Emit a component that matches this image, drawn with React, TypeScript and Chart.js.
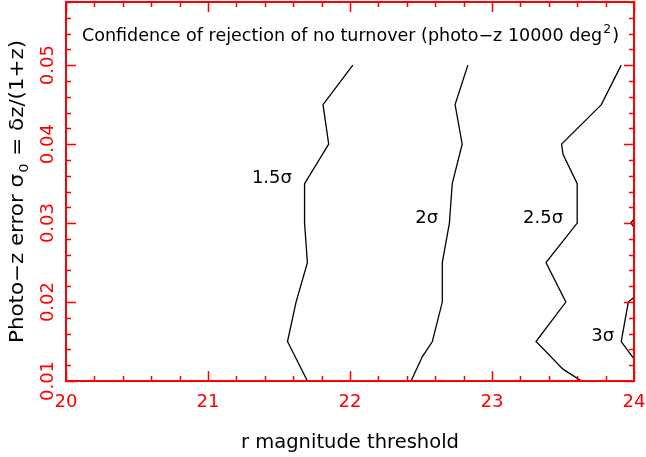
import React, { useEffect, useRef } from "react";
import { Chart, registerables } from "chart.js";

Chart.register(...registerables);

// ---- axis ranges & ticks ----
const xRange = [20, 24];
const yRange = [0.01, 0.058];
const xMajorTicks = [20, 21, 22, 23, 24];
const xTickLabels = ["20", "21", "22", "23", "24"];
const yMajorTicks = [0.01, 0.02, 0.03, 0.04, 0.05];
const yTickLabels = ["0.01", "0.02", "0.03", "0.04", "0.05"];
const xMinorStep = 0.2;
const yMinorStep = 0.002;

// ---- contour lines (r magnitude, sigma_0) ----
const sigma15X = [21.70, 21.56, 21.62, 21.70, 21.68, 21.68, 21.85, 21.81, 22.02];
const sigma15Y = [0.010, 0.015, 0.020, 0.025, 0.030, 0.035, 0.040, 0.045, 0.050];

const sigma2X = [22.43, 22.51, 22.58, 22.65, 22.65, 22.70, 22.72, 22.79, 22.74, 22.83];
const sigma2Y = [0.010, 0.0131, 0.015, 0.020, 0.025, 0.030, 0.035, 0.040, 0.045, 0.050];

const sigma25X = [23.63, 23.50, 23.31, 23.52, 23.38, 23.60, 23.60, 23.50, 23.49, 23.77, 23.91];
const sigma25Y = [0.010, 0.0115, 0.015, 0.020, 0.025, 0.030, 0.035, 0.0387, 0.040, 0.045, 0.050];

const sigma3aX = [24.0, 23.91, 23.96, 24.0];
const sigma3aY = [0.0128, 0.015, 0.020, 0.0206];
const sigma3bX = [24.0, 23.977, 24.0];
const sigma3bY = [0.0295, 0.030, 0.0305];

// ---- contour labels (text, anchor in data units) ----
const contourLabels = ["1.5σ", "2σ", "2.5σ", "3σ"];
const contourLabelX = [21.45, 22.54, 23.36, 23.78];
const contourLabelY = [0.0357, 0.0306, 0.0306, 0.0157];

const titleMain = "Confidence of rejection of no turnover (photo\u2212z 10000 deg";
const titleSup = "2";
const titleEnd = ")";
const xAxisTitle = "r magnitude threshold";
const yTitleA = "Photo\u2212z error \u03c3";
const yTitleSub = "0";
const yTitleB = " = \u03b4z/(1+z)";

const RED = "#ff0000";
const FONT = "'DejaVu Sans', sans-serif";

const zip = (xs: number[], ys: number[]) => xs.map((x, i) => ({ x, y: ys[i] }));

type Part = { text: string; size: number; dy: number; gap: number };

// draw a run of text parts starting at (0,0) in the current frame, stretched to targetWidth
function drawRun(ctx: CanvasRenderingContext2D, parts: Part[], targetWidth: number) {
  let total = 0;
  const widths = parts.map((p) => {
    ctx.font = `${p.size}px ${FONT}`;
    const w = ctx.measureText(p.text).width;
    total += w + p.gap;
    return w;
  });
  const k = targetWidth / total;
  ctx.save();
  ctx.scale(k, 1);
  ctx.textAlign = "left";
  ctx.textBaseline = "alphabetic";
  let x = 0;
  parts.forEach((p, i) => {
    ctx.font = `${p.size}px ${FONT}`;
    x += p.gap;
    ctx.fillText(p.text, x, p.dy);
    x += widths[i];
  });
  ctx.restore();
}

const decorPlugin = {
  id: "decor",
  beforeDraw(chart: any) {
    const ctx = chart.ctx;
    ctx.save();
    ctx.fillStyle = "#ffffff";
    ctx.fillRect(0, 0, chart.width, chart.height);
    ctx.restore();
  },
  afterDatasetsDraw(chart: any) {
    const ctx = chart.ctx;
    const xs = chart.scales.x;
    const ys = chart.scales.y;
    const a = chart.chartArea;
    ctx.save();

    // frame
    ctx.strokeStyle = RED;
    ctx.lineWidth = 2;
    ctx.strokeRect(a.left, a.top, a.right - a.left, a.bottom - a.top);

    // ticks
    ctx.lineWidth = 1.5;
    ctx.beginPath();
    const nx = Math.round((xRange[1] - xRange[0]) / xMinorStep);
    for (let i = 0; i <= nx; i++) {
      const v = xRange[0] + i * xMinorStep;
      const major = xMajorTicks.some((t) => Math.abs(t - v) < 1e-6);
      const len = major ? 10 : 5;
      const px = Math.round(xs.getPixelForValue(v)) + 0.5;
      ctx.moveTo(px, a.bottom);
      ctx.lineTo(px, a.bottom - len);
      ctx.moveTo(px, a.top);
      ctx.lineTo(px, a.top + len);
    }
    const ny = Math.round((yRange[1] - yRange[0]) / yMinorStep);
    for (let i = 0; i <= ny; i++) {
      const v = yRange[0] + i * yMinorStep;
      const major = yMajorTicks.some((t) => Math.abs(t - v) < 1e-7);
      const len = major ? 10 : 5;
      const py = Math.round(ys.getPixelForValue(v)) + 0.5;
      ctx.moveTo(a.left, py);
      ctx.lineTo(a.left + len, py);
      ctx.moveTo(a.right, py);
      ctx.lineTo(a.right - len, py);
    }
    ctx.stroke();

    // tick labels
    ctx.fillStyle = RED;
    ctx.font = `18px ${FONT}`;
    ctx.textAlign = "center";
    ctx.textBaseline = "alphabetic";
    xMajorTicks.forEach((v, i) => {
      ctx.fillText(xTickLabels[i], xs.getPixelForValue(v), a.bottom + 26);
    });
    yMajorTicks.forEach((v, i) => {
      ctx.save();
      ctx.translate(a.left - 13, ys.getPixelForValue(v));
      ctx.rotate(-Math.PI / 2);
      ctx.fillText(yTickLabels[i], 0, 0);
      ctx.restore();
    });

    // title inside plot
    ctx.fillStyle = "#000000";
    ctx.save();
    ctx.translate(a.left + 16, a.top + 39);
    drawRun(
      ctx,
      [
        { text: titleMain, size: 17, dy: 0, gap: 0 },
        { text: titleSup, size: 12, dy: -8, gap: 1 },
        { text: titleEnd, size: 17, dy: 0, gap: 1 },
      ],
      537
    );
    ctx.restore();

    // x title
    ctx.save();
    ctx.translate(241, a.bottom + 67);
    drawRun(ctx, [{ text: xAxisTitle, size: 19, dy: 0, gap: 0 }], 218);
    ctx.restore();

    // y title
    ctx.save();
    ctx.translate(a.left - 43, a.bottom - 38);
    ctx.rotate(-Math.PI / 2);
    drawRun(
      ctx,
      [
        { text: yTitleA, size: 19, dy: 0, gap: 0 },
        { text: yTitleSub, size: 13, dy: 5, gap: 1 },
        { text: yTitleB, size: 19, dy: 0, gap: 1 },
      ],
      303
    );
    ctx.restore();

    // contour labels
    ctx.font = `18px ${FONT}`;
    ctx.textAlign = "center";
    ctx.textBaseline = "middle";
    contourLabels.forEach((t, i) => {
      ctx.fillText(t, xs.getPixelForValue(contourLabelX[i]), ys.getPixelForValue(contourLabelY[i]));
    });

    ctx.restore();
  },
};

export default function App() {
  const ref = useRef<HTMLCanvasElement | null>(null);
  useEffect(() => {
    document.body.style.margin = "0";
    if (!ref.current) return;
    const line = (xs: number[], ys: number[]) => ({
      data: zip(xs, ys),
      showLine: true,
      borderColor: "#000000",
      borderWidth: 1.3,
      pointRadius: 0,
      fill: false,
      tension: 0,
    });
    const chart = new Chart(ref.current, {
      type: "scatter",
      data: {
        datasets: [
          line(sigma15X, sigma15Y),
          line(sigma2X, sigma2Y),
          line(sigma25X, sigma25Y),
          line(sigma3aX, sigma3aY),
          line(sigma3bX, sigma3bY),
        ],
      },
      options: {
        responsive: false,
        animation: false,
        devicePixelRatio: 1,
        layout: { padding: { left: 66, right: 12, top: 2, bottom: 76 } },
        plugins: { legend: { display: false }, tooltip: { enabled: false }, title: { display: false } },
        scales: {
          x: { type: "linear", min: xRange[0], max: xRange[1], display: false },
          y: { type: "linear", min: yRange[0], max: yRange[1], display: false },
        },
      },
      plugins: [decorPlugin],
    } as any);
    return () => chart.destroy();
  }, []);
  return (
    <div style={{ width: 646, height: 457 }}>
      <canvas ref={ref} width={646} height={457} style={{ display: "block" }} />
    </div>
  );
}
